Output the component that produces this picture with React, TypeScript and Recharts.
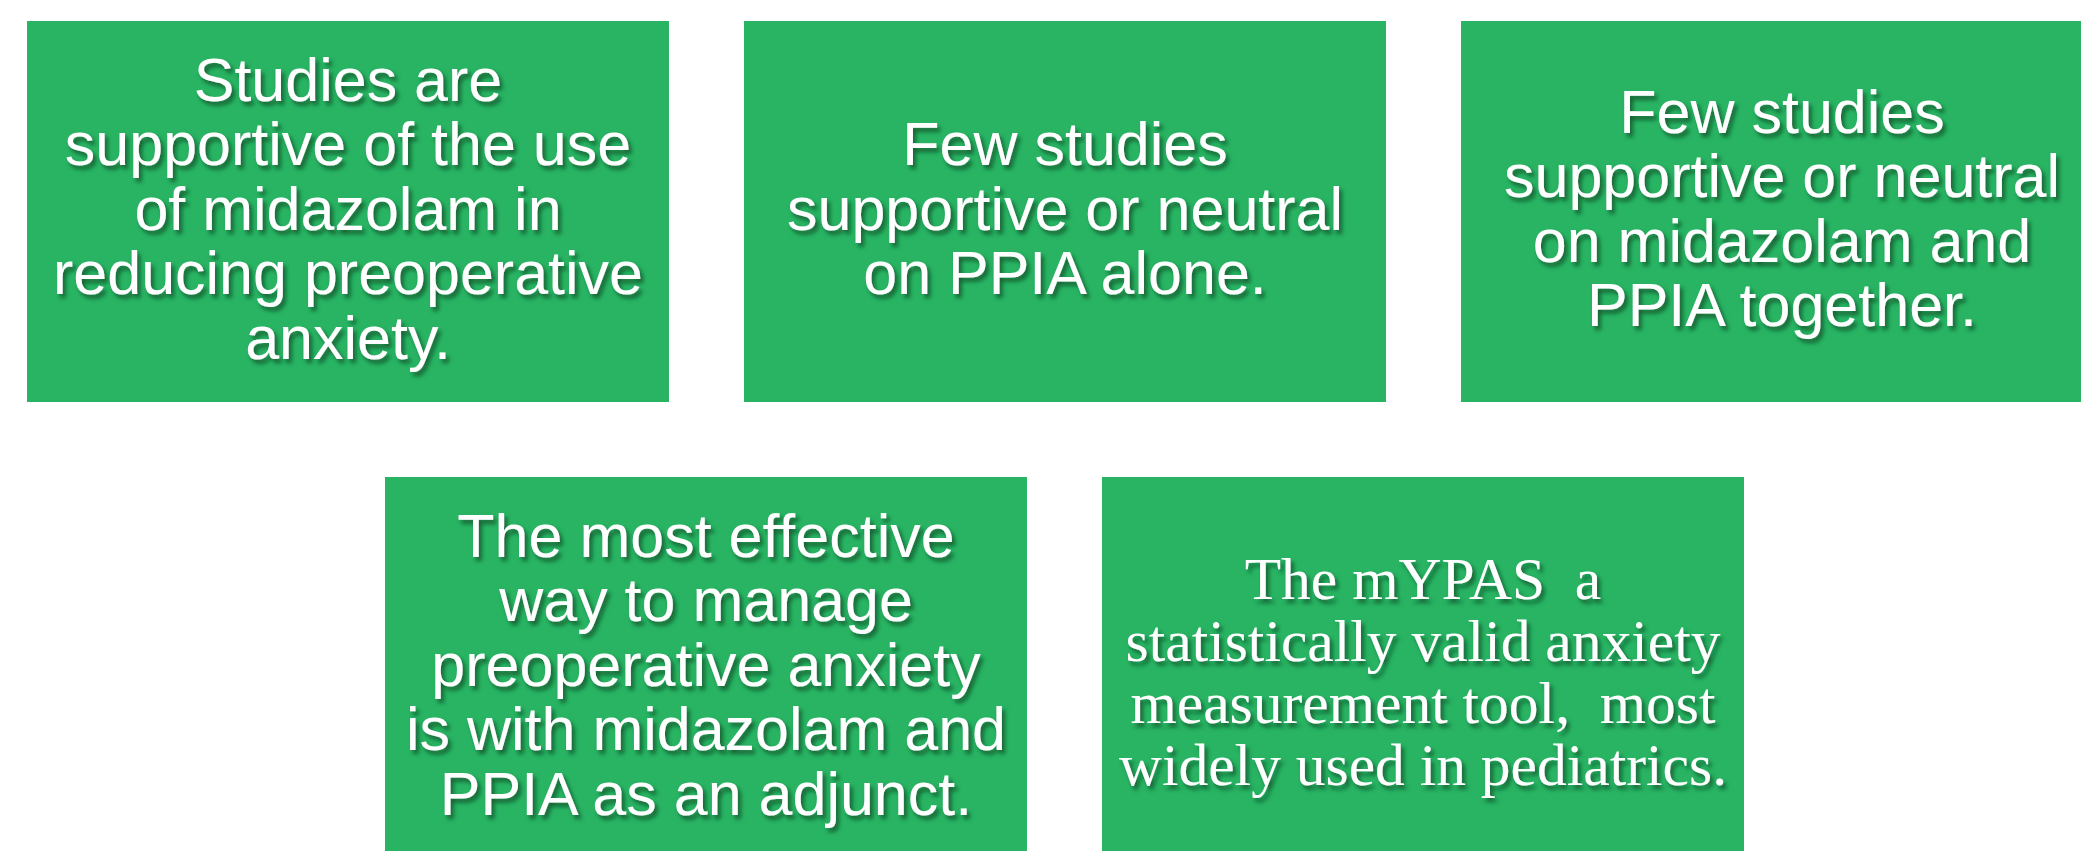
import React from 'react';
import { BarChart, Bar, XAxis, YAxis } from 'recharts';

// Top row statements (one box each)
const topRowKeys = ['midazolam', 'ppiaAlone', 'combined'];
const topRowLines = [
  ['Studies are', 'supportive of the use', 'of midazolam in', 'reducing preoperative', 'anxiety.'],
  ['Few studies', 'supportive or neutral', 'on PPIA alone.'],
  ['Few studies', 'supportive or neutral', 'on midazolam and', 'PPIA together.'],
];

// Bottom row statements
const bottomRowKeys = ['mostEffective', 'mypas'];
const bottomRowLines = [
  ['The most effective', 'way to manage', 'preoperative anxiety', 'is with midazolam and', 'PPIA as an adjunct.'],
  ['The mYPAS  a', 'statistically valid anxiety', 'measurement tool,  most', 'widely used in pediatrics.'],
];

// every box spans the full height of its row
const boxSpan = [1, 1, 1];

const topRowData = topRowKeys.map((key, i) => ({ key, span: boxSpan[i], lines: topRowLines[i] }));
const bottomRowData = bottomRowKeys.map((key, i) => ({ key, span: boxSpan[i], lines: bottomRowLines[i] }));

const GREEN = '#28B463';
const SANS = '"Liberation Sans", Arial, sans-serif';
const SERIF = '"Liberation Serif", "Times New Roman", serif';
const serifKeys = new Set(['mypas']);

const BoxShape = (props: any) => {
  const { x, y, width, height, payload } = props;
  const lines: string[] = payload.lines;
  const serif = serifKeys.has(payload.key);
  const fontSize = serif ? 59.5 : 61;
  const gap = serif ? 62 : 64.5;
  const cx = x + width / 2;
  const cy = y + height / 2 + (serif ? 5 : -2);
  const n = lines.length;
  return (
    <g>
      <rect x={x} y={y} width={width} height={height} fill={GREEN} />
      <g filter="url(#txtShadow)">
        <text
          textAnchor="middle"
          fill="#ffffff"
          fontFamily={serif ? SERIF : SANS}
          fontSize={fontSize}
          style={{ whiteSpace: 'pre' }}
        >
          {lines.map((l, i) => (
            <tspan key={i} x={cx} y={cy + (i - (n - 1) / 2) * gap + fontSize * 0.33}>
              {l}
            </tspan>
          ))}
        </text>
      </g>
    </g>
  );
};

export default function App() {
  return (
    <div style={{ position: 'absolute', left: 0, top: 0, width: 2081, height: 851, overflow: 'hidden', background: '#fff' }}>
      <svg width={0} height={0} style={{ position: 'absolute' }}>
        <defs>
          <filter id="txtShadow" x="-10%" y="-10%" width="120%" height="130%">
            <feDropShadow dx={3} dy={4} stdDeviation={2} floodColor="#0b4d25" floodOpacity={0.8} />
          </filter>
        </defs>
      </svg>
      <div style={{ position: 'absolute', left: -11.5, top: 21 }}>
        <BarChart width={2151} height={381} data={topRowData} margin={{ top: 0, right: 0, bottom: 0, left: 0 }}>
          <XAxis dataKey="key" hide />
          <YAxis hide domain={[0, 1]} />
          <Bar dataKey="span" barSize={642} shape={BoxShape} isAnimationActive={false} />
        </BarChart>
      </div>
      <div style={{ position: 'absolute', left: 347, top: 477 }}>
        <BarChart width={1434} height={381} data={bottomRowData} margin={{ top: 0, right: 0, bottom: 0, left: 0 }}>
          <XAxis dataKey="key" hide />
          <YAxis hide domain={[0, 1]} />
          <Bar dataKey="span" barSize={642} shape={BoxShape} isAnimationActive={false} />
        </BarChart>
      </div>
    </div>
  );
}
